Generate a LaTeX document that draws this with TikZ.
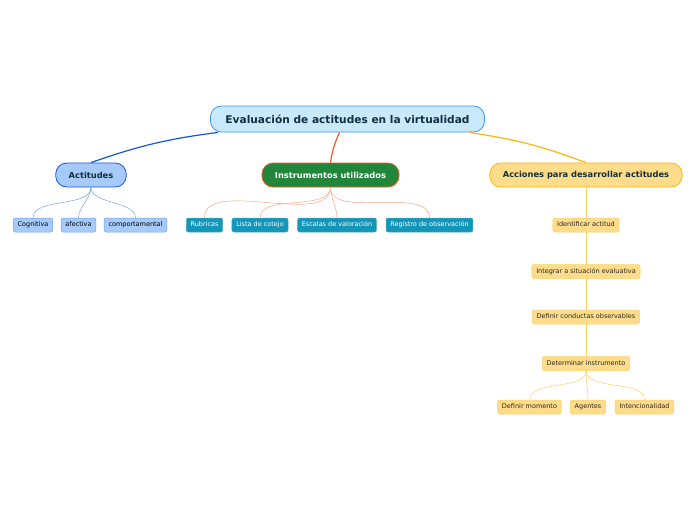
\documentclass[tikz,border=0pt]{standalone}
\usepackage{fontspec}
\setmainfont{DejaVu Sans}
\usetikzlibrary{positioning}
\definecolor{rootfill}{HTML}{C8E8FC}
\definecolor{rootdraw}{HTML}{3D9BE9}
\definecolor{actfill}{HTML}{A6CAFB}
\definecolor{actdraw}{HTML}{1558D6}
\definecolor{actline}{HTML}{6FA3EE}
\definecolor{insfill}{HTML}{1F863A}
\definecolor{insdraw}{HTML}{F1592A}
\definecolor{insline}{HTML}{F7A68C}
\definecolor{insleaf}{HTML}{1396B9}
\definecolor{accfill}{HTML}{FFDC8A}
\definecolor{accdraw}{HTML}{F9B60C}
\definecolor{accline}{HTML}{FFD060}
\definecolor{darktext}{HTML}{12303A}

\begin{document}
\begin{tikzpicture}[x=1pt, y=-1pt,
  rootbox/.style={draw=rootdraw, fill=rootfill, rounded corners=11pt, line width=0.8pt,
    text=darktext, font=\fontsize{10.6}{12}\selectfont\bfseries,
    minimum height=26pt, inner xsep=15pt},
  topicbox/.style={rounded corners=11pt, line width=0.8pt,
    font=\fontsize{8.3}{10}\selectfont\bfseries,
    minimum height=24pt, inner xsep=13pt},
  leafbox/.style={rounded corners=2pt, line width=0.5pt,
    font=\fontsize{6.5}{8}\selectfont,
    minimum height=14pt, inner xsep=4.3pt, inner ysep=0pt,
    text height=4.8pt, text depth=1.3pt},
  actleaf/.style={leafbox, draw=actline, fill=actfill, text=black},
  insleafbox/.style={leafbox, draw=insleaf!80!white, fill=insleaf, text=white},
  accleaf/.style={leafbox, draw=accdraw!60!white, fill=accfill, text=black!85},
  fan/.style={out=-90, in=90, looseness=0.8}]
\useasboundingbox (0,0) rectangle (696,520);

% central topic
\node[rootbox] (root) at (347.5,119) {Evaluación de actitudes en la virtualidad};

% main topics
\node[topicbox, draw=actdraw, fill=actfill, text=darktext] (act) at (91,175) {Actitudes};
\node[topicbox, draw=insdraw, fill=insfill, text=white] (ins) at (330.5,175) {Instrumentos utilizados};
\node[topicbox, draw=accdraw, fill=accfill, text=darktext] (acc) at (586,175) {Acciones para desarrollar actitudes};

\draw[actdraw, line width=1.2pt] ([xshift=8pt]root.south west) to[bend right=6] (act.north);
\draw[insdraw, line width=1.2pt] ([xshift=-8pt]root.south) to[bend right=8] (ins.north);
\draw[accdraw, line width=1.2pt] ([xshift=-16pt]root.south east) to[bend left=6] (acc.north);

% Actitudes
\node[actleaf] (cog) at (33,225) {Cognitiva};
\node[actleaf] (afe) at (78.5,225) {afectiva};
\node[actleaf] (com) at (135.5,225) {comportamental};
\foreach \c in {cog,afe,com} \draw[actline, line width=0.5pt] (act.south) to[fan] (\c.north);

% Instrumentos
\node[insleafbox] (rub) at (204.5,225) {Rubricas};
\node[insleafbox] (lis) at (260,225) {Lista de cotejo};
\node[insleafbox] (esc) at (337,225) {Escalas de valoración};
\node[insleafbox] (reg) at (429.5,225) {Registro de observación};
\foreach \c in {rub,lis,esc,reg} \draw[insline, line width=0.5pt] (ins.south) to[fan] (\c.north);

% Acciones
\node[accleaf] (ide) at (586,225) {Identificar actitud};
\node[accleaf, below=32pt of ide] (int) {Integrar a situación evaluativa};
\node[accleaf, below=31pt of int] (def) {Definir conductas observables};
\node[accleaf, below=32pt of def] (det) {Determinar instrumento};
\foreach \a/\b in {acc/ide,ide/int,int/def,def/det} \draw[accline, line width=0.5pt] (\a.south) -- (\b.north);
\node[accleaf] (mom) at (529.5,407) {Definir momento};
\node[accleaf] (age) at (588,407) {Agentes};
\node[accleaf] (inten) at (644.5,407) {Intencionalidad};
\foreach \c in {mom,age,inten} \draw[accline, line width=0.5pt] (det.south) to[fan] (\c.north);
\end{tikzpicture}
\end{document}
